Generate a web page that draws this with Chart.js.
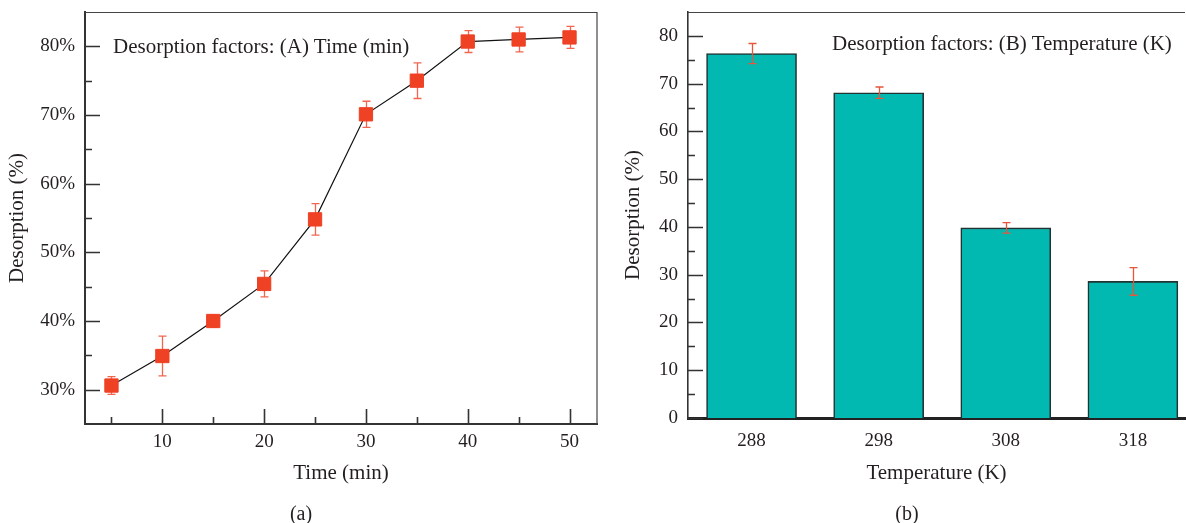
<!DOCTYPE html>
<html>
<head>
<meta charset="utf-8">
<script src="https://cdn.jsdelivr.net/npm/chart.js@4/dist/chart.umd.min.js"></script>
<style>
  body { margin: 0; width: 1186px; height: 523px; position: relative; background: #fff;
         font-family: "Liberation Serif", serif; color: #231f20; overflow: hidden; }
  #wrapA { position: absolute; left: 0; top: 0; width: 600px; height: 523px; }
  #wrapB { position: absolute; left: 600px; top: 0; width: 586px; height: 523px; }
  .note { position: absolute; font-size: 21px; line-height: 1; white-space: nowrap; }
  .cap { position: absolute; font-size: 20px; line-height: 1; transform: translateX(-50%); }
</style>
</head>
<body>
<div id="wrapA"><canvas id="chartA"></canvas></div>
<div id="wrapB"><canvas id="chartB"></canvas></div>
<div class="note" style="left:113px;top:36px">Desorption factors: (A) Time (min)</div>
<div class="note" style="left:832px;top:33px">Desorption factors: (B) Temperature (K)</div>
<div class="cap" style="left:301px;top:503px">(a)</div>
<div class="cap" style="left:907px;top:503px">(b)</div>
<script>
// (A) desorption vs time
let timeMin = [5, 10, 15, 20, 25, 30, 35, 40, 45, 50];
let desorptionTime = [30.6, 34.9, 40.0, 45.4, 54.8, 70.1, 75.0, 80.7, 81.0, 81.3];
let errTime = [1.3, 2.9, 0.9, 1.9, 2.3, 1.9, 2.6, 1.6, 1.8, 1.6];
let timeTicks = [10, 20, 30, 40, 50];
let timeMinor = [5, 15, 25, 35, 45];
let pctTicks = [30, 40, 50, 60, 70, 80];
let pctMinor = [35, 45, 55, 65, 75];

// (B) desorption vs temperature
let temps = ["288", "298", "308", "318"];
let desorptionTemp = [76.3, 68.1, 39.8, 28.6];
let errTemp = [2.1, 1.2, 1.1, 2.9];
let tempYTicks = [0, 10, 20, 30, 40, 50, 60, 70, 80];
let tempYMinor = [5, 15, 25, 35, 45, 55, 65, 75];

const ink = "#231f20";
const serif = "'Liberation Serif', serif";

// inward tick marks + top/right frame lines
const frameTicks = {
    id: "frameTicks",
    afterDraw(chart, args, o) {
        const {ctx, chartArea: a, scales} = chart;
        ctx.save();
        ctx.strokeStyle = "#333";
        ctx.lineWidth = 1.6;
        ctx.beginPath();
        (o.yMajor || []).forEach(v => { let y = Math.round(scales.y.getPixelForValue(v)) + 0.5; ctx.moveTo(a.left, y); ctx.lineTo(a.left + 15, y); });
        (o.yMinor || []).forEach(v => { let y = Math.round(scales.y.getPixelForValue(v)) + 0.5; ctx.moveTo(a.left, y); ctx.lineTo(a.left + 7, y); });
        (o.xMajor || []).forEach(v => { let x = Math.round(scales.x.getPixelForValue(v)) + 0.5; ctx.moveTo(x, a.bottom); ctx.lineTo(x, a.bottom - 15); });
        (o.xMinor || []).forEach(v => { let x = Math.round(scales.x.getPixelForValue(v)) + 0.5; ctx.moveTo(x, a.bottom); ctx.lineTo(x, a.bottom - 7); });
        ctx.stroke();
        ctx.lineWidth = 1.2;
        ctx.strokeStyle = "#444";
        ctx.beginPath();
        ctx.moveTo(a.left, a.top + 0.5);
        ctx.lineTo(a.right, a.top + 0.5);
        if (o.right) ctx.lineTo(a.right, a.bottom);
        ctx.stroke();
        ctx.restore();
    }
};

function drawErrors(chart, o) {
    const {ctx, scales} = chart;
    const meta = chart.getDatasetMeta(0);
    ctx.save();
    ctx.strokeStyle = o.color;
    ctx.lineWidth = 1.3;
    ctx.beginPath();
    meta.data.forEach((el, i) => {
        let v = chart.data.datasets[0].data[i];
        v = typeof v === "object" ? v.y : v;
        let x = Math.round(el.x) + 0.5;
        let yt = scales.y.getPixelForValue(v + o.err[i]);
        let yb = scales.y.getPixelForValue(v - o.err[i]);
        ctx.moveTo(x, yt); ctx.lineTo(x, yb);
        ctx.moveTo(x - 4, yt); ctx.lineTo(x + 4, yt);
        ctx.moveTo(x - 4, yb); ctx.lineTo(x + 4, yb);
    });
    ctx.stroke();
    ctx.restore();
}

const errorBars = {
    id: "errorBars",
    beforeDatasetsDraw(chart, args, o) { if (o.under) drawErrors(chart, o); },
    afterDatasetsDraw(chart, args, o) { if (!o.under) drawErrors(chart, o); }
};

function axisTitle(text, pad) {
    return { display: true, text: text, color: ink, font: { family: serif, size: 21 }, padding: pad };
}

// fixed axis boxes so the plot areas land where the figure has them
function fixH(h) { return s => { s.height = h; s.paddingLeft = 0; s.paddingRight = 0; }; }
function fixW(w) { return s => { s.width = w; s.paddingTop = 0; s.paddingBottom = 0; }; }

new Chart(document.getElementById("chartA"), {
    type: "line",
    data: {
        datasets: [{
            data: timeMin.map((t, i) => ({ x: t, y: desorptionTime[i] })),
            borderColor: "#111",
            borderWidth: 1.2,
            pointStyle: "rect",
            pointRadius: 9.4,
            pointBackgroundColor: "#ef4124",
            pointBorderColor: "#ef4124",
            pointBorderWidth: 1,
            tension: 0
        }]
    },
    options: {
        responsive: true,
        maintainAspectRatio: false,
        animation: false,
        layout: { autoPadding: false, padding: { top: 12, right: 3, bottom: 37, left: 0 } },
        plugins: {
            legend: { display: false },
            tooltip: { enabled: false },
            frameTicks: { xMajor: timeTicks, xMinor: timeMinor, yMajor: pctTicks, yMinor: pctMinor, right: true },
            errorBars: { err: errTime, color: "#f26650", under: true }
        },
        scales: {
            x: {
                type: "linear", min: 2.4, max: 52.7,
                afterBuildTicks: s => { s.ticks = timeTicks.map(v => ({ value: v })); },
                afterFit: fixH(62),
                grid: { display: false, drawTicks: false },
                border: { display: true, color: "#333", width: 2 },
                ticks: { color: ink, font: { family: serif, size: 19 }, padding: 7 },
                title: axisTitle("Time (min)", { top: 0, bottom: 0 })
            },
            y: {
                type: "linear", min: 25, max: 85,
                afterBuildTicks: s => { s.ticks = pctTicks.map(v => ({ value: v })); },
                afterFit: fixW(85),
                grid: { display: false, drawTicks: false },
                border: { display: true, color: "#333", width: 2 },
                ticks: { color: ink, font: { family: serif, size: 19 }, padding: 10, callback: v => v + "%" },
                title: axisTitle("Desorption (%)", { top: 5, bottom: 0 })
            }
        }
    },
    plugins: [errorBars, frameTicks]
});

new Chart(document.getElementById("chartB"), {
    type: "bar",
    data: {
        datasets: [{
            data: temps.map((t, i) => ({ x: i, y: desorptionTemp[i] })),
            backgroundColor: "#02b9b1",
            borderColor: "#223333",
            borderWidth: 1.6,
            barThickness: 90
        }]
    },
    options: {
        responsive: true,
        maintainAspectRatio: false,
        animation: false,
        layout: { autoPadding: false, padding: { top: 12, right: 1, bottom: 37, left: 0 } },
        plugins: {
            legend: { display: false },
            tooltip: { enabled: false },
            frameTicks: { yMajor: tempYTicks, yMinor: tempYMinor, right: false },
            errorBars: { err: errTemp, color: "#e8553a", under: false }
        },
        scales: {
            x: {
                type: "linear", min: -0.5, max: 3.41, offset: false,
                afterBuildTicks: s => { s.ticks = temps.map((t, i) => ({ value: i })); },
                afterFit: fixH(68),
                grid: { display: false, drawTicks: false, offset: false },
                border: { display: true, color: "#222", width: 3 },
                ticks: { color: ink, font: { family: serif, size: 19 }, padding: 12, callback: v => temps[v] },
                title: axisTitle("Temperature (K)", { top: 0, bottom: 0 })
            },
            y: {
                type: "linear", min: 0, max: 85,
                afterBuildTicks: s => { s.ticks = tempYTicks.map(v => ({ value: v })); },
                afterFit: fixW(88),
                grid: { display: false, drawTicks: false },
                border: { display: true, color: "#333", width: 1.6 },
                ticks: { color: ink, font: { family: serif, size: 19 }, padding: 10 },
                title: axisTitle("Desorption (%)", { top: 21, bottom: 0 })
            }
        }
    },
    plugins: [errorBars, frameTicks]
});
</script>
</body>
</html>
